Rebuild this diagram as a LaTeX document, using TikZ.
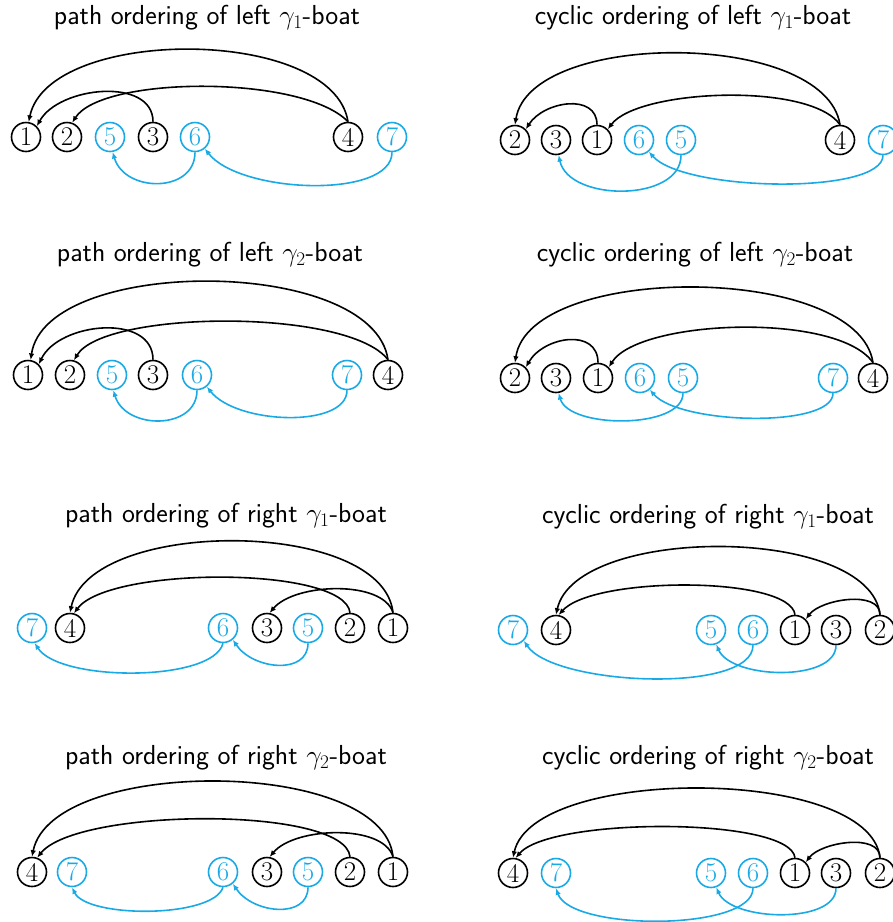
\RequirePackage{fix-cm}
\documentclass[tikz,border=0pt]{standalone}
\usetikzlibrary{arrows.meta}
\definecolor{cy}{RGB}{25,170,230}
\tikzset{
  bk/.style={circle,draw=black,line width=1.6pt,minimum size=29pt,inner sep=0pt,font=\fontsize{27}{27}\selectfont},
  bl/.style={bk,draw=cy,text=cy},
  ttl/.style={font=\sffamily\fontsize{27.5}{30}\selectfont,inner sep=0pt},
  ka/.style={-{Latex[length=6.5pt,width=5.5pt]},line width=1.6pt,draw=black},
  ba/.style={ka,draw=cy},
}
\begin{document}
\begin{tikzpicture}[x=1pt,y=1pt]
\useasboundingbox (0,0) rectangle (893,-922);
% ---------- Panel 1
\node[ttl] (T1) at (207,-18) {path ordering of left $\gamma_1$-boat};
\node[bk] (A1) at (26,-137) {1};
\node[bk] (A2) at (67,-137) {2};
\node[bl] (A5) at (110,-137) {5};
\node[bk] (A3) at (153,-137) {3};
\node[bl] (A6) at (195,-137) {6};
\node[bk] (A4) at (348,-137) {4};
\node[bl] (A7) at (392,-137) {7};
\draw[ka] (A4.north) .. controls +(-15,96) and +(20,96) .. (A1.80);
\draw[ka] (A4.north) .. controls +(-45,47) and +(30,47) .. (A2.70);
\draw[ka] (A3.north) .. controls +(0,45) and +(22,40) .. (A1.45);
\draw[ba] (A6.south) .. controls +(0,-41) and +(12,-41) .. (A5.-80);
\draw[ba] (A7.south) .. controls +(0,-47) and +(35,-45) .. (A6.-50);
% ---------- Panel 2
\node[ttl] (T2) at (693,-18) {cyclic ordering of left $\gamma_1$-boat};
\node[bk] (B2) at (515,-140) {2};
\node[bk] (B3) at (556,-140) {3};
\node[bk] (B1) at (597,-140) {1};
\node[bl] (B6) at (639,-140) {6};
\node[bl] (B5) at (681,-140) {5};
\node[bk] (B4) at (840,-140) {4};
\node[bl] (B7) at (883,-140) {7};
\draw[ka] (B4.north) .. controls +(-15,95) and +(15,95) .. (B2.90);
\draw[ka] (B4.north) .. controls +(-30,43) and +(30,40) .. (B1.45);
\draw[ka] (B1.north) .. controls +(0,32) and +(18,28) .. (B2.45);
\draw[ba] (B5.south) .. controls +(0,-47) and +(10,-47) .. (B3.-80);
\draw[ba] (B7.south) .. controls +(0,-40) and +(35,-40) .. (B6.-50);
% ---------- Panel 3
\node[ttl] (T3) at (210,-255) {path ordering of left $\gamma_2$-boat};
\node[bk] (C1) at (28,-375) {1};
\node[bk] (C2) at (70,-375) {2};
\node[bl] (C5) at (112,-375) {5};
\node[bk] (C3) at (153,-375) {3};
\node[bl] (C6) at (197,-375) {6};
\node[bl] (C7) at (347,-375) {7};
\node[bk] (C4) at (388,-375) {4};
\draw[ka] (C4.north) .. controls +(-15,104) and +(15,104) .. (C1.80);
\draw[ka] (C4.north) .. controls +(-40,52) and +(30,50) .. (C2.75);
\draw[ka] (C3.north) .. controls +(0,47) and +(20,42) .. (C1.45);
\draw[ba] (C6.south) .. controls +(0,-40) and +(12,-40) .. (C5.-85);
\draw[ba] (C7.south) .. controls +(0,-38) and +(30,-38) .. (C6.-50);
% ---------- Panel 4
\node[ttl] (T4) at (695,-255) {cyclic ordering of left $\gamma_2$-boat};
\node[bk] (D2) at (515,-378) {2};
\node[bk] (D3) at (556,-378) {3};
\node[bk] (D1) at (598,-378) {1};
\node[bl] (D6) at (640,-378) {6};
\node[bl] (D5) at (683,-378) {5};
\node[bl] (D7) at (833,-378) {7};
\node[bk] (D4) at (873,-378) {4};
\draw[ka] (D4.north) .. controls +(-15,100) and +(15,100) .. (D2.90);
\draw[ka] (D4.north) .. controls +(-35,51) and +(30,48) .. (D1.45);
\draw[ka] (D1.north) .. controls +(0,35) and +(18,31) .. (D2.45);
\draw[ba] (D5.south) .. controls +(0,-36) and +(10,-36) .. (D3.-80);
\draw[ba] (D7.south) .. controls +(0,-35) and +(30,-35) .. (D6.-50);
% ---------- Panel 5
\node[ttl] (T5) at (226,-516) {path ordering of right $\gamma_1$-boat};
\node[bl] (E7) at (32,-628) {7};
\node[bk] (E4) at (70,-628) {4};
\node[bl] (E6) at (223,-628) {6};
\node[bk] (E3) at (267,-628) {3};
\node[bl] (E5) at (308,-628) {5};
\node[bk] (E2) at (350,-628) {2};
\node[bk] (E1) at (393,-628) {1};
\draw[ka] (E1.north) .. controls +(-10,95) and +(20,95) .. (E4.90);
\draw[ka] (E2.north) .. controls +(-5,47) and +(35,47) .. (E4.75);
\draw[ka] (E1.north) .. controls +(-10,33) and +(25,30) .. (E3.80);
\draw[ba] (E6.south) .. controls +(-10,-39) and +(25,-39) .. (E7.-80);
\draw[ba] (E5.south) .. controls +(0,-32) and +(20,-30) .. (E6.-50);
% ---------- Panel 6
\node[ttl] (T6) at (708,-517) {cyclic ordering of right $\gamma_1$-boat};
\node[bl] (F7) at (513,-630) {7};
\node[bk] (F4) at (556,-630) {4};
\node[bl] (F5) at (711,-630) {5};
\node[bl] (F6) at (753,-630) {6};
\node[bk] (F1) at (795,-630) {1};
\node[bk] (F3) at (836,-630) {3};
\node[bk] (F2) at (880,-630) {2};
\draw[ka] (F2.north) .. controls +(-10,90) and +(20,90) .. (F4.90);
\draw[ka] (F1.north) .. controls +(-5,39) and +(35,39) .. (F4.80);
\draw[ka] (F2.north) .. controls +(0,25) and +(15,20) .. (F1.45);
\draw[ba] (F6.south) .. controls +(0,-49) and +(30,-45) .. (F7.-45);
\draw[ba] (F3.south) .. controls +(0,-37) and +(15,-35) .. (F5.-70);
% ---------- Panel 7
\node[ttl] (T7) at (226,-758) {path ordering of right $\gamma_2$-boat};
\node[bk] (G4) at (32,-872) {4};
\node[bl] (G7) at (72,-872) {7};
\node[bl] (G6) at (223,-872) {6};
\node[bk] (G3) at (267,-872) {3};
\node[bl] (G5) at (308,-872) {5};
\node[bk] (G2) at (350,-872) {2};
\node[bk] (G1) at (393,-872) {1};
\draw[ka] (G1.north) .. controls +(-10,100) and +(20,100) .. (G4.90);
\draw[ka] (G2.north) .. controls +(-5,51) and +(40,50) .. (G4.70);
\draw[ka] (G1.north) .. controls +(-10,33) and +(25,30) .. (G3.80);
\draw[ba] (G6.south) .. controls +(-10,-31) and +(15,-31) .. (G7.-90);
\draw[ba] (G5.south) .. controls +(0,-32) and +(20,-30) .. (G6.-50);
% ---------- Panel 8
\node[ttl] (T8) at (708,-758) {cyclic ordering of right $\gamma_2$-boat};
\node[bk] (H4) at (513,-873) {4};
\node[bl] (H7) at (556,-873) {7};
\node[bl] (H5) at (711,-873) {5};
\node[bl] (H6) at (753,-873) {6};
\node[bk] (H1) at (795,-873) {1};
\node[bk] (H3) at (836,-873) {3};
\node[bk] (H2) at (880,-873) {2};
\draw[ka] (H2.north) .. controls +(-10,92) and +(20,92) .. (H4.90);
\draw[ka] (H1.north) .. controls +(-5,41) and +(35,41) .. (H4.80);
\draw[ka] (H2.north) .. controls +(0,25) and +(15,20) .. (H1.45);
\draw[ba] (H6.south) .. controls +(0,-43) and +(15,-43) .. (H7.-90);
\draw[ba] (H3.south) .. controls +(0,-36) and +(15,-34) .. (H5.-70);
\end{tikzpicture}
\end{document}
